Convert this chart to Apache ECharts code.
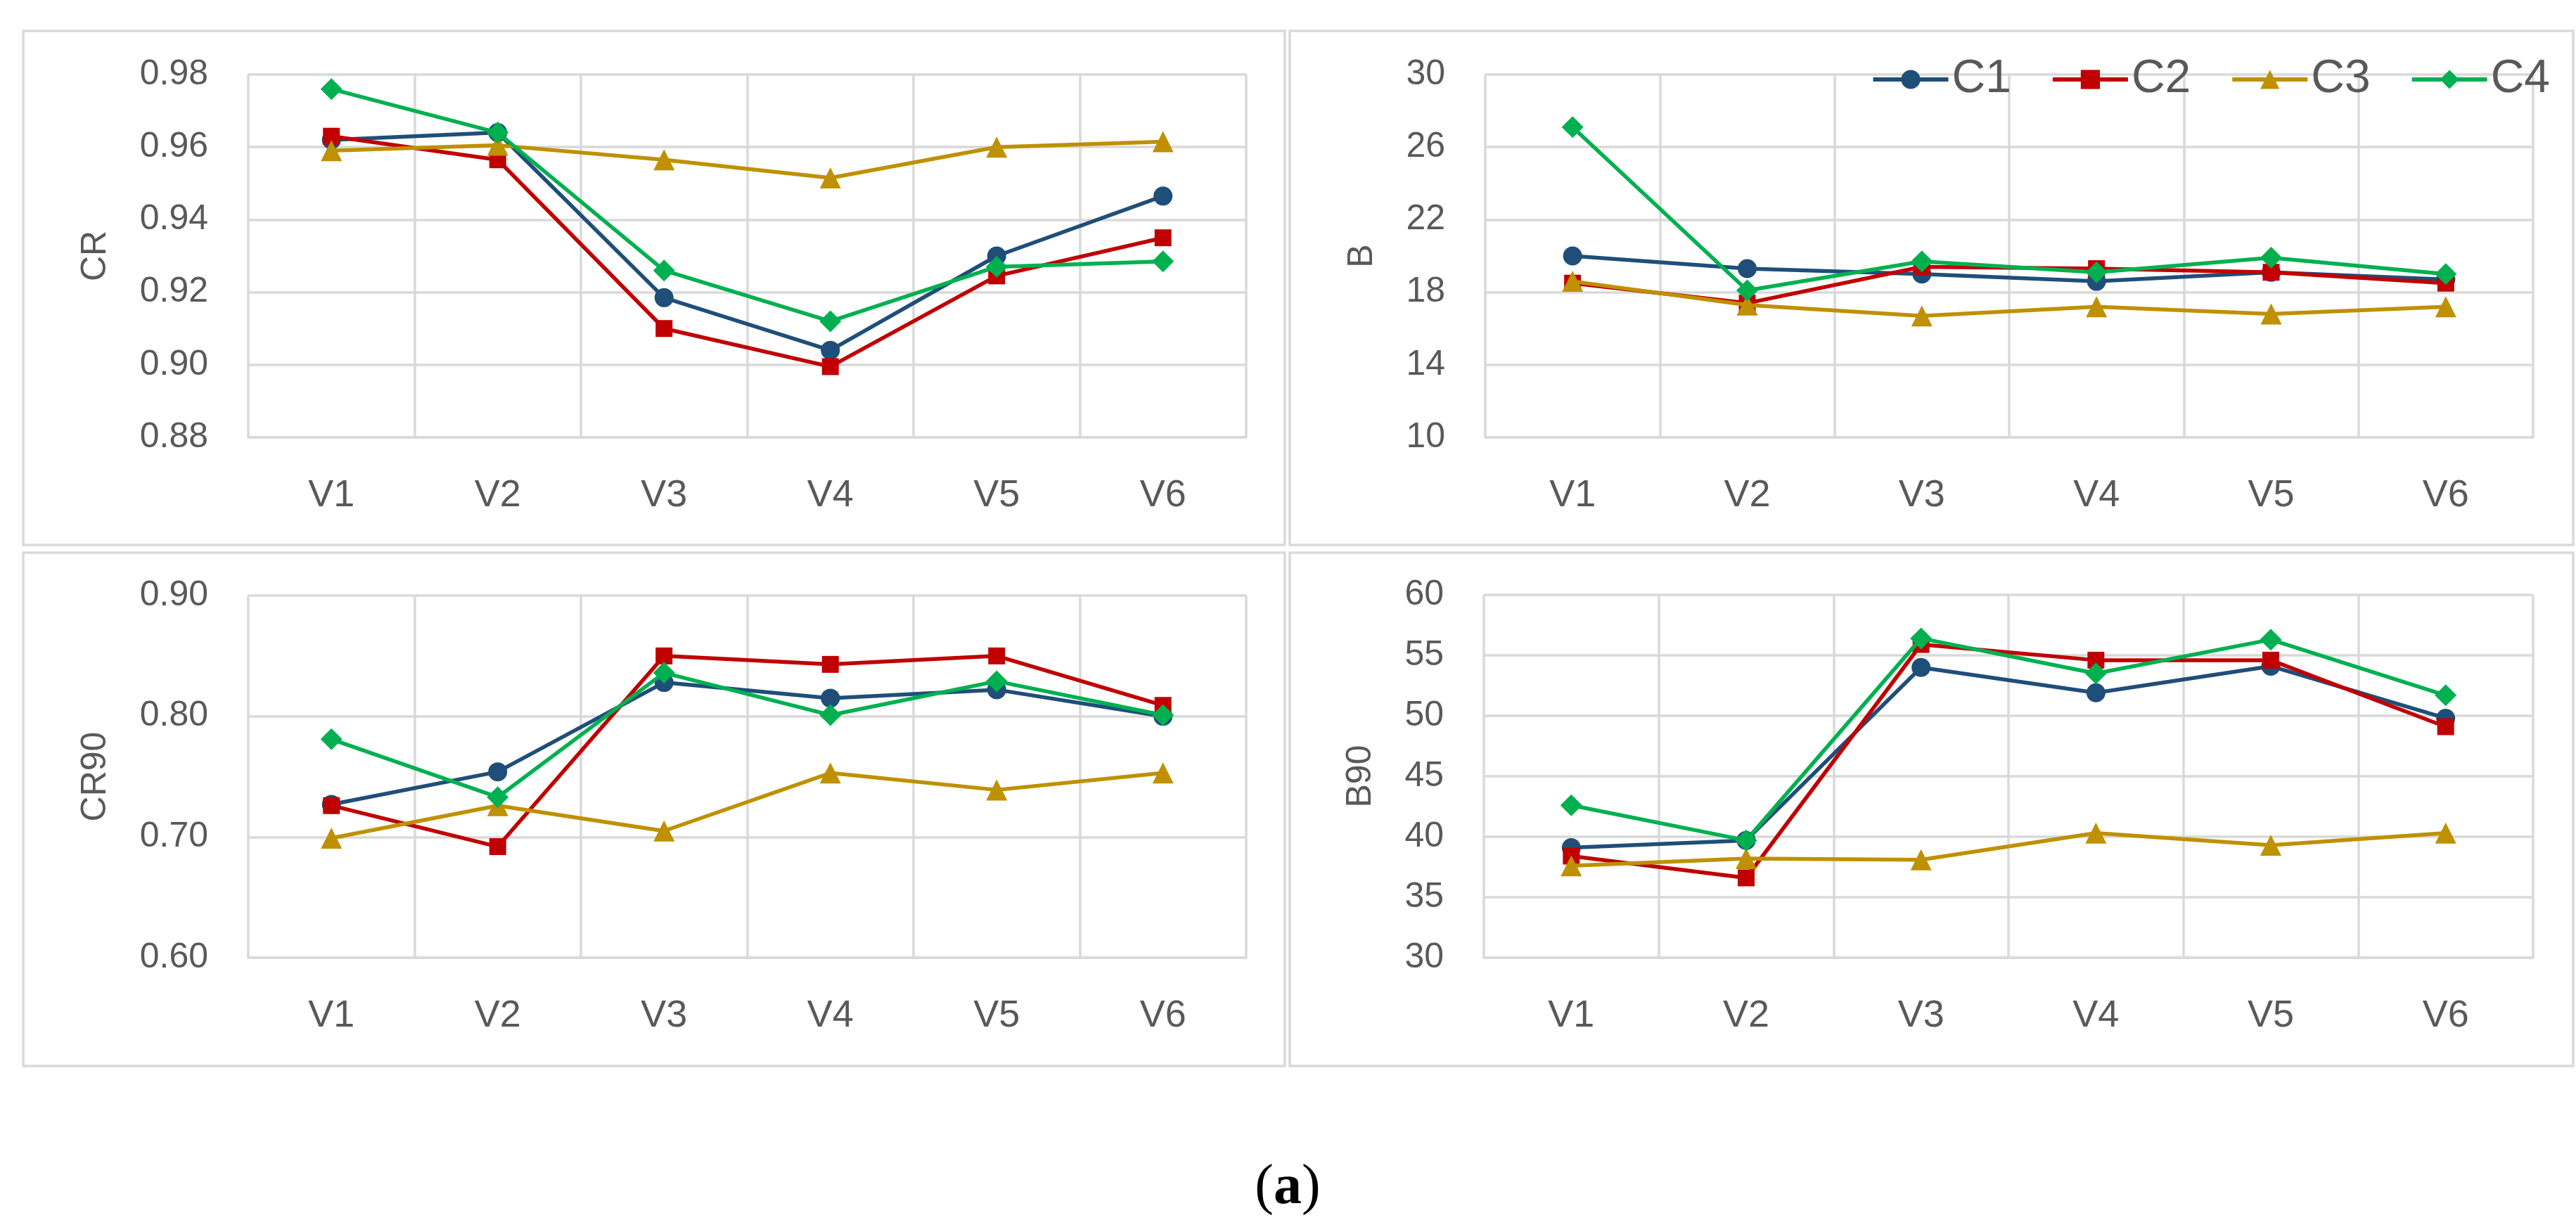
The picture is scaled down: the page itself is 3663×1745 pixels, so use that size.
<!DOCTYPE html>
<html>
<head>
<meta charset="utf-8">
<script src="https://cdn.jsdelivr.net/npm/echarts@6/dist/echarts.min.js"></script>
<style>
html,body{margin:0;padding:0;background:#fff;}
#chart{width:3663px;height:1745px;}
</style>
</head>
<body>
<div id="chart"></div>
<script>
// ---- data ----
const categories = ['V1', 'V2', 'V3', 'V4', 'V5', 'V6'];
const seriesNames = ['C1', 'C2', 'C3', 'C4'];

const crC1 = [0.962, 0.964, 0.9185, 0.904, 0.930, 0.9465];
const crC2 = [0.963, 0.9565, 0.910, 0.8995, 0.9245, 0.935];
const crC3 = [0.959, 0.9605, 0.9565, 0.9515, 0.960, 0.9615];
const crC4 = [0.976, 0.964, 0.926, 0.912, 0.927, 0.9285];

const bC1 = [20.0, 19.3, 19.0, 18.6, 19.1, 18.7];
const bC2 = [18.5, 17.4, 19.4, 19.3, 19.1, 18.5];
const bC3 = [18.6, 17.3, 16.7, 17.2, 16.8, 17.2];
const bC4 = [27.1, 18.1, 19.7, 19.1, 19.9, 19.0];

const cr90C1 = [0.727, 0.754, 0.828, 0.815, 0.822, 0.800];
const cr90C2 = [0.726, 0.692, 0.850, 0.843, 0.850, 0.809];
const cr90C3 = [0.699, 0.726, 0.705, 0.753, 0.739, 0.753];
const cr90C4 = [0.781, 0.733, 0.836, 0.801, 0.829, 0.801];

const b90C1 = [39.1, 39.7, 54.0, 51.9, 54.1, 49.8];
const b90C2 = [38.4, 36.6, 55.9, 54.6, 54.6, 49.1];
const b90C3 = [37.6, 38.2, 38.1, 40.3, 39.3, 40.3];
const b90C4 = [42.6, 39.7, 56.4, 53.5, 56.3, 51.7];

const yTicksCR = { min: 0.88, max: 0.98, interval: 0.02, digits: 2 };
const yTicksB = { min: 10, max: 30, interval: 4, digits: 0 };
const yTicksCR90 = { min: 0.60, max: 0.90, interval: 0.10, digits: 2 };
const yTicksB90 = { min: 30, max: 60, interval: 5, digits: 0 };

// ---- styles ----
const colors = ['#1F4E79', '#C00000', '#BF9000', '#00B050'];
const symbols = ['circle', 'rect', 'triangle', 'diamond'];
const symbolSizes = [27, 24, 30, 31];
const gridColor = '#D9D9D9';
const textColor = '#595959';
const font = 'Liberation Sans, Arial, sans-serif';

const panels = [
  { name: 'CR', ticks: yTicksCR, data: [crC1, crC2, crC3, crC4], grid: { left: 353, top: 106, width: 1419, height: 516 }, nameGap: 192 },
  { name: 'B', ticks: yTicksB, data: [bC1, bC2, bC3, bC4], grid: { left: 2112, top: 106, width: 1490, height: 516 }, nameGap: 150 },
  { name: 'CR90', ticks: yTicksCR90, data: [cr90C1, cr90C2, cr90C3, cr90C4], grid: { left: 353, top: 847, width: 1419, height: 515 }, nameGap: 192 },
  { name: 'B90', ticks: yTicksB90, data: [b90C1, b90C2, b90C3, b90C4], grid: { left: 2110, top: 846, width: 1492, height: 516 }, nameGap: 150 }
];

const grids = [], xAxes = [], yAxes = [], series = [];
panels.forEach((p, i) => {
  grids.push(Object.assign({ containLabel: false }, p.grid));
  xAxes.push({
    type: 'category', gridIndex: i, data: categories, boundaryGap: true,
    axisTick: { show: false },
    axisLine: { show: true, lineStyle: { color: gridColor, width: 3.5 } },
    splitLine: { show: true, interval: 0, lineStyle: { color: gridColor, width: 3.5 } },
    axisLabel: { color: textColor, fontSize: 54, fontFamily: font, margin: 56, interval: 0 }
  });
  yAxes.push({
    type: 'value', gridIndex: i, min: p.ticks.min, max: p.ticks.max, interval: p.ticks.interval,
    name: p.name, nameLocation: 'middle', nameGap: p.nameGap,
    nameTextStyle: { color: textColor, fontSize: 50, fontFamily: font },
    axisLine: { show: false }, axisTick: { show: false },
    splitLine: { show: true, lineStyle: { color: gridColor, width: 3.5 } },
    axisLabel: {
      color: textColor, fontSize: 50, fontFamily: font, margin: 57,
      formatter: v => Number(v).toFixed(p.ticks.digits)
    }
  });
  p.data.forEach((d, k) => {
    series.push({
      name: seriesNames[k], type: 'line', xAxisIndex: i, yAxisIndex: i, data: d,
      symbol: symbols[k], symbolSize: symbolSizes[k], showSymbol: true,
      lineStyle: { color: colors[k], width: 5.5 },
      itemStyle: { color: colors[k] },
      emphasis: { disabled: true }, animation: false, z: 2 + k
    });
  });
});

const frames = [
  [33, 44, 1794, 731], [1834, 44, 1825, 731],
  [33, 786, 1794, 730], [1834, 786, 1825, 730]
].map(r => ({
  type: 'rect', shape: { x: r[0], y: r[1], width: r[2], height: r[3] },
  style: { fill: 'none', stroke: gridColor, lineWidth: 3.5 }, silent: true
}));

const chart = echarts.init(document.getElementById('chart'), null, { renderer: 'canvas' });
chart.setOption({
  backgroundColor: '#ffffff',
  animation: false,
  grid: grids, xAxis: xAxes, yAxis: yAxes, series: series,
  legend: {
    data: seriesNames, right: 37, top: 80, padding: 0,
    itemWidth: 107, itemHeight: 34, itemGap: 56,
    lineStyle: { width: 6 },
    textStyle: { color: textColor, fontSize: 66, fontFamily: font }
  },
  graphic: frames.concat([{
    type: 'text', x: 1831, y: 1690,
    style: {
      text: '({b|a})', fontFamily: 'Liberation Serif, Times New Roman, serif', fontSize: 80,
      fill: '#000', textAlign: 'center', textVerticalAlign: 'middle',
      rich: { b: { fontWeight: 'bold', fontSize: 80, fontFamily: 'Liberation Serif, Times New Roman, serif', fill: '#000' } }
    }
  }])
});
</script>
</body>
</html>
